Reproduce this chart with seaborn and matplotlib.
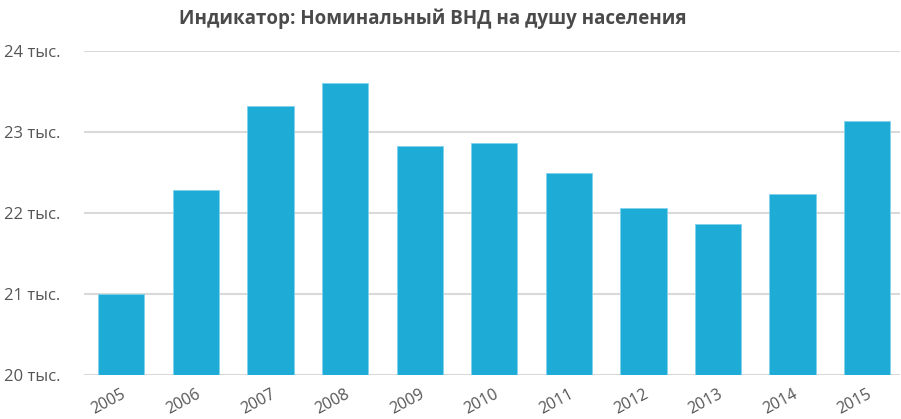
import numpy as np
import pandas as pd
import matplotlib
matplotlib.use('Agg')
import matplotlib.pyplot as plt
import seaborn as sns

years = ['2005', '2006', '2007', '2008', '2009', '2010', '2011', '2012', '2013', '2014', '2015']
gni = [21000, 22290, 23320, 23610, 22830, 22860, 22490, 22060, 21870, 22230, 23130]
yticks = [20000, 21000, 22000, 23000, 24000]
title = 'Индикатор: Номинальный ВНД на душу населения'

df = pd.DataFrame({'year': years, 'gni': gni})

sns.set_style('white')
plt.rcParams['font.family'] = ['Open Sans', 'DejaVu Sans']

fig = plt.figure(figsize=(9.01, 4.19), dpi=100)
ax = fig.add_axes([84 / 901, 1 - 375 / 419, 816 / 901, 324 / 419])

sns.barplot(data=df, x='year', y='gni', color='#1eacd6', saturation=1, width=0.62,
            edgecolor='#7fd3ec', linewidth=0.6, ax=ax)

ax.set_ylim(20000, 24000)
ax.set_xlim(-0.5, 10.44)
ax.set_yticks(yticks)
ax.set_yticklabels(['%d тыс.' % (v // 1000) for v in yticks])
ax.yaxis.grid(True, color='#d9d9d9', linewidth=1.5)
ax.set_axisbelow(True)
ax.tick_params(axis='y', length=0, pad=17, labelsize=12, labelcolor='#555555')
ax.tick_params(axis='x', length=0, pad=8, labelsize=11.5, labelcolor='#555555')
for lbl in ax.get_xticklabels():
    lbl.set_rotation(28)
    lbl.set_ha('right')
    lbl.set_rotation_mode('anchor')
ax.set_xlabel('')
ax.set_ylabel('')
sns.despine(ax=ax, left=True, top=True, right=True, bottom=True)

fig.text(0.48, 1 - 19 / 419, title, ha='center', va='center', fontsize=13.5,
         fontweight='bold', color='#4a4a4a')

plt.savefig('out.png', dpi=100)
plt.close()
